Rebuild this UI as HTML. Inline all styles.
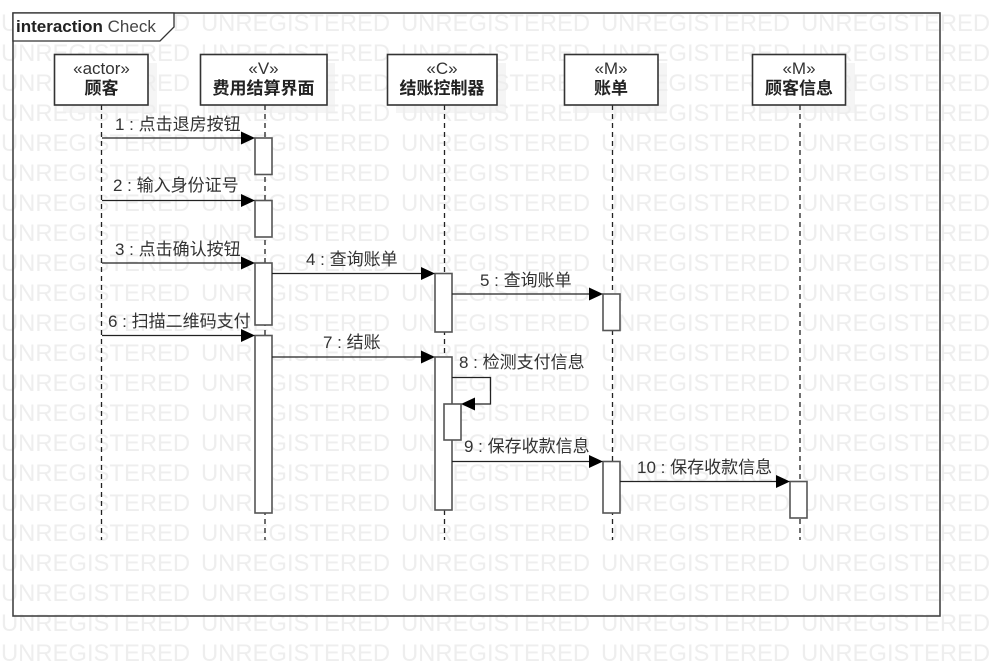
<!DOCTYPE html>
<html><head><meta charset="utf-8">
<style>
html,body{margin:0;padding:0;background:#fff;width:991px;height:669px;overflow:hidden}
svg{display:block}
text{font-family:"Liberation Sans","Noto Sans CJK SC",sans-serif}
.wm text{font-size:23.8px;fill:#eee}
.m{font-size:17px;fill:#333}
.s{font-size:17px;fill:#333;text-anchor:middle}
.b{font-size:17px;font-weight:bold;fill:#222;text-anchor:middle}
.box{fill:#fff;stroke:#333;stroke-width:1.6}
.sh{fill:#eee;opacity:.6}
.act{fill:#fff;stroke:#555;stroke-width:1.6}
.ll{stroke:#222;stroke-width:1.3;stroke-dasharray:5 4;fill:none}
.ln{stroke:#222;stroke-width:1.3;fill:none}
</style></head><body>
<svg width="991" height="669" viewBox="0 0 991 669" xmlns="http://www.w3.org/2000/svg">
<rect x="0" y="0" width="991" height="669" fill="#fff"/>
<g class="wm">
<text x="1" y="31">UNREGISTERED</text><text x="201" y="31">UNREGISTERED</text><text x="401" y="31">UNREGISTERED</text><text x="601" y="31">UNREGISTERED</text><text x="801" y="31">UNREGISTERED</text>
<text x="1" y="61">UNREGISTERED</text><text x="201" y="61">UNREGISTERED</text><text x="401" y="61">UNREGISTERED</text><text x="601" y="61">UNREGISTERED</text><text x="801" y="61">UNREGISTERED</text>
<text x="1" y="91">UNREGISTERED</text><text x="201" y="91">UNREGISTERED</text><text x="401" y="91">UNREGISTERED</text><text x="601" y="91">UNREGISTERED</text><text x="801" y="91">UNREGISTERED</text>
<text x="1" y="121">UNREGISTERED</text><text x="201" y="121">UNREGISTERED</text><text x="401" y="121">UNREGISTERED</text><text x="601" y="121">UNREGISTERED</text><text x="801" y="121">UNREGISTERED</text>
<text x="1" y="151">UNREGISTERED</text><text x="201" y="151">UNREGISTERED</text><text x="401" y="151">UNREGISTERED</text><text x="601" y="151">UNREGISTERED</text><text x="801" y="151">UNREGISTERED</text>
<text x="1" y="181">UNREGISTERED</text><text x="201" y="181">UNREGISTERED</text><text x="401" y="181">UNREGISTERED</text><text x="601" y="181">UNREGISTERED</text><text x="801" y="181">UNREGISTERED</text>
<text x="1" y="211">UNREGISTERED</text><text x="201" y="211">UNREGISTERED</text><text x="401" y="211">UNREGISTERED</text><text x="601" y="211">UNREGISTERED</text><text x="801" y="211">UNREGISTERED</text>
<text x="1" y="241">UNREGISTERED</text><text x="201" y="241">UNREGISTERED</text><text x="401" y="241">UNREGISTERED</text><text x="601" y="241">UNREGISTERED</text><text x="801" y="241">UNREGISTERED</text>
<text x="1" y="271">UNREGISTERED</text><text x="201" y="271">UNREGISTERED</text><text x="401" y="271">UNREGISTERED</text><text x="601" y="271">UNREGISTERED</text><text x="801" y="271">UNREGISTERED</text>
<text x="1" y="301">UNREGISTERED</text><text x="201" y="301">UNREGISTERED</text><text x="401" y="301">UNREGISTERED</text><text x="601" y="301">UNREGISTERED</text><text x="801" y="301">UNREGISTERED</text>
<text x="1" y="331">UNREGISTERED</text><text x="201" y="331">UNREGISTERED</text><text x="401" y="331">UNREGISTERED</text><text x="601" y="331">UNREGISTERED</text><text x="801" y="331">UNREGISTERED</text>
<text x="1" y="361">UNREGISTERED</text><text x="201" y="361">UNREGISTERED</text><text x="401" y="361">UNREGISTERED</text><text x="601" y="361">UNREGISTERED</text><text x="801" y="361">UNREGISTERED</text>
<text x="1" y="391">UNREGISTERED</text><text x="201" y="391">UNREGISTERED</text><text x="401" y="391">UNREGISTERED</text><text x="601" y="391">UNREGISTERED</text><text x="801" y="391">UNREGISTERED</text>
<text x="1" y="421">UNREGISTERED</text><text x="201" y="421">UNREGISTERED</text><text x="401" y="421">UNREGISTERED</text><text x="601" y="421">UNREGISTERED</text><text x="801" y="421">UNREGISTERED</text>
<text x="1" y="451">UNREGISTERED</text><text x="201" y="451">UNREGISTERED</text><text x="401" y="451">UNREGISTERED</text><text x="601" y="451">UNREGISTERED</text><text x="801" y="451">UNREGISTERED</text>
<text x="1" y="481">UNREGISTERED</text><text x="201" y="481">UNREGISTERED</text><text x="401" y="481">UNREGISTERED</text><text x="601" y="481">UNREGISTERED</text><text x="801" y="481">UNREGISTERED</text>
<text x="1" y="511">UNREGISTERED</text><text x="201" y="511">UNREGISTERED</text><text x="401" y="511">UNREGISTERED</text><text x="601" y="511">UNREGISTERED</text><text x="801" y="511">UNREGISTERED</text>
<text x="1" y="541">UNREGISTERED</text><text x="201" y="541">UNREGISTERED</text><text x="401" y="541">UNREGISTERED</text><text x="601" y="541">UNREGISTERED</text><text x="801" y="541">UNREGISTERED</text>
<text x="1" y="571">UNREGISTERED</text><text x="201" y="571">UNREGISTERED</text><text x="401" y="571">UNREGISTERED</text><text x="601" y="571">UNREGISTERED</text><text x="801" y="571">UNREGISTERED</text>
<text x="1" y="601">UNREGISTERED</text><text x="201" y="601">UNREGISTERED</text><text x="401" y="601">UNREGISTERED</text><text x="601" y="601">UNREGISTERED</text><text x="801" y="601">UNREGISTERED</text>
<text x="1" y="631">UNREGISTERED</text><text x="201" y="631">UNREGISTERED</text><text x="401" y="631">UNREGISTERED</text><text x="601" y="631">UNREGISTERED</text><text x="801" y="631">UNREGISTERED</text>
<text x="1" y="661">UNREGISTERED</text><text x="201" y="661">UNREGISTERED</text><text x="401" y="661">UNREGISTERED</text><text x="601" y="661">UNREGISTERED</text><text x="801" y="661">UNREGISTERED</text>
</g>

<!-- frame -->
<rect x="13" y="13" width="927" height="603" fill="none" stroke="#444" stroke-width="1.6"/>
<path d="M13 13H174V27L160 41H13Z" fill="#fff" stroke="#333" stroke-width="1.3"/>
<text x="16" y="32" font-size="17" fill="#222"><tspan font-weight="bold">interaction</tspan> <tspan fill="#444">Check</tspan></text>

<!-- shadows -->
<rect class="sh" x="63" y="63" width="94" height="50"/>
<rect class="sh" x="208" y="63" width="127" height="50"/>
<rect class="sh" x="396" y="63" width="110" height="50"/>
<rect class="sh" x="573" y="63" width="94" height="50"/>
<rect class="sh" x="761" y="63" width="94" height="50"/>

<!-- lifelines -->
<path class="ll" d="M101.5 105V540"/>
<path class="ll" d="M265 105V540"/>
<path class="ll" d="M444.5 105V540"/>
<path class="ll" d="M612.5 105V540"/>
<path class="ll" d="M800 105V540"/>

<!-- boxes -->
<rect class="box" x="54.5" y="54.5" width="93.5" height="50.5"/>
<rect class="box" x="200.5" y="54.5" width="126.5" height="50.5"/>
<rect class="box" x="387.5" y="54.5" width="109.5" height="50.5"/>
<rect class="box" x="564.5" y="54.5" width="93.5" height="50.5"/>
<rect class="box" x="752.5" y="54.5" width="93" height="50.5"/>
<text class="s" x="101.5" y="74">«actor»</text><text class="b" x="101.5" y="94">顾客</text>
<text class="s" x="263.5" y="74">«V»</text><text class="b" x="263.5" y="94">费用结算界面</text>
<text class="s" x="442" y="74">«C»</text><text class="b" x="442" y="94">结账控制器</text>
<text class="s" x="611" y="74">«M»</text><text class="b" x="611" y="94">账单</text>
<text class="s" x="799" y="74">«M»</text><text class="b" x="799" y="94">顾客信息</text>

<!-- activations -->
<rect class="act" x="255" y="138" width="17" height="36.5"/>
<rect class="act" x="255" y="200.5" width="17" height="36.5"/>
<rect class="act" x="255" y="263" width="17" height="62"/>
<rect class="act" x="255" y="335.5" width="17" height="177.5"/>
<rect class="act" x="435" y="273.5" width="17" height="58.5"/>
<rect class="act" x="435" y="357" width="17" height="153"/>
<rect class="act" x="444" y="404" width="17" height="36"/>
<rect class="act" x="603" y="294" width="17" height="36.5"/>
<rect class="act" x="603" y="461.5" width="17" height="51.5"/>
<rect class="act" x="790" y="481.5" width="17" height="36.5"/>

<!-- messages -->
<path class="ln" d="M102 138H242"/><path d="M241 131.5L255 138L241 144.5Z" fill="#000"/>
<path class="ln" d="M102 200.5H242"/><path d="M241 194L255 200.5L241 207Z" fill="#000"/>
<path class="ln" d="M102 263H242"/><path d="M241 256.5L255 263L241 269.5Z" fill="#000"/>
<path class="ln" d="M102 335.5H242"/><path d="M241 329L255 335.5L241 342Z" fill="#000"/>
<path class="ln" d="M272 273.5H422"/><path d="M421 267L435 273.5L421 280Z" fill="#000"/>
<path class="ln" d="M272 357H422"/><path d="M421 350.5L435 357L421 363.5Z" fill="#000"/>
<path class="ln" d="M452 294H590"/><path d="M589 287.5L603 294L589 300.5Z" fill="#000"/>
<path class="ln" d="M452 461.5H590"/><path d="M589 455L603 461.5L589 468Z" fill="#000"/>
<path class="ln" d="M620 481.5H777"/><path d="M776 475L790 481.5L776 488Z" fill="#000"/>
<path class="ln" d="M452 377.5H490.5V404H474"/><path d="M475 397.5L461 404L475 410.5Z" fill="#000"/>

<!-- labels -->
<text class="m" x="115" y="130">1 : 点击退房按钮</text>
<text class="m" x="113" y="191">2 : 输入身份证号</text>
<text class="m" x="115" y="255">3 : 点击确认按钮</text>
<text class="m" x="108" y="327">6 : 扫描二维码支付</text>
<text class="m" x="306" y="265">4 : 查询账单</text>
<text class="m" x="480" y="286">5 : 查询账单</text>
<text class="m" x="323" y="348">7 : 结账</text>
<text class="m" x="459" y="368">8 : 检测支付信息</text>
<text class="m" x="464" y="452">9 : 保存收款信息</text>
<text class="m" x="637" y="473">10 : 保存收款信息</text>
</svg>
</body></html>
